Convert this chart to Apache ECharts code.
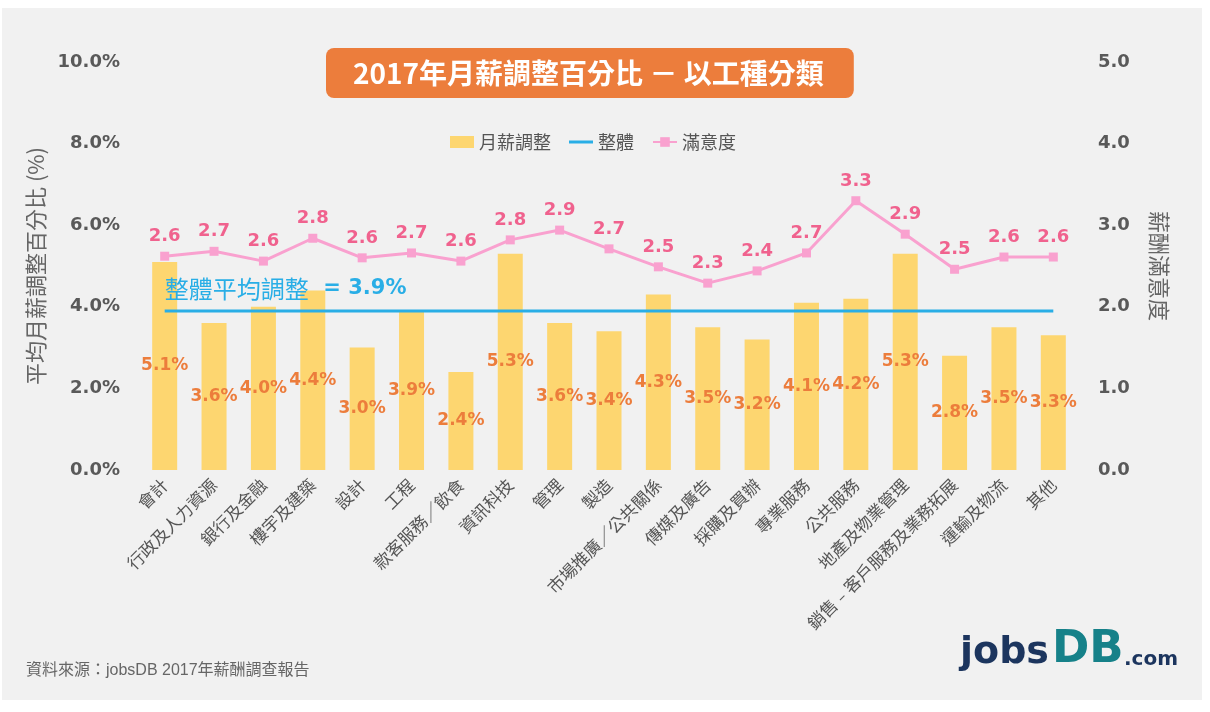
<!DOCTYPE html>
<html>
<head>
<meta charset="utf-8">
<script src="https://cdn.jsdelivr.net/npm/echarts@6/dist/echarts.min.js"></script>
<style>
html,body{margin:0;padding:0;background:#ffffff;}
#chart{position:absolute;left:2px;top:8px;width:1200px;height:692px;}
</style>
</head>
<body>
<div id="chart"></div>
<script>
const categories = ['會計','行政及人力資源','銀行及金融','樓宇及建築','設計','工程','款客服務／飲食','資訊科技','管理','製造','市場推廣／公共關係','傳媒及廣告','採購及買辦','專業服務','公共服務','地產及物業管理','銷售﹣客戶服務及業務拓展','運輸及物流','其他'];
const salaryAdjust = [5.1, 3.6, 4.0, 4.4, 3.0, 3.9, 2.4, 5.3, 3.6, 3.4, 4.3, 3.5, 3.2, 4.1, 4.2, 5.3, 2.8, 3.5, 3.3];
const overall = [3.9, 3.9, 3.9, 3.9, 3.9, 3.9, 3.9, 3.9, 3.9, 3.9, 3.9, 3.9, 3.9, 3.9, 3.9, 3.9, 3.9, 3.9, 3.9];
const satisfaction = [2.62, 2.68, 2.56, 2.84, 2.60, 2.66, 2.56, 2.82, 2.94, 2.71, 2.49, 2.29, 2.44, 2.66, 3.30, 2.89, 2.46, 2.61, 2.61];
const leftTicks = [0, 2, 4, 6, 8, 10];
const rightTicks = [0, 1, 2, 3, 4, 5];
const overallLabel = '整體平均調整';
const overallValueText = '= 3.9%';

const CJK = "'Noto Sans CJK TC','Noto Sans CJK SC',sans-serif";
const NUM = "'DejaVu Sans','Noto Sans CJK TC',sans-serif";
const LOGO = "'DejaVu Sans',sans-serif";

const chart = echarts.init(document.getElementById('chart'));
chart.setOption({
  backgroundColor: '#f1f1f1',
  textStyle: {fontFamily: CJK},
  title: {
    text: '2017年月薪調整百分比 － 以工種分類',
    left: 324, top: 40,
    backgroundColor: '#ec7d3c',
    borderRadius: 8,
    padding: [11, 30, 11, 27],
    textStyle: {color: '#ffffff', fontSize: 28, fontWeight: 'bold', fontFamily: CJK}
  },
  legend: {
    left: 443, top: 120,
    itemGap: 18,
    itemWidth: 24, itemHeight: 12,
    textStyle: {fontSize: 18, color: '#555555', fontFamily: CJK},
    data: [
      {name: '月薪調整', icon: 'rect', itemStyle: {color: '#fdd670'}},
      {name: '整體', icon: 'path://M0,0 L24,0 L24,3 L0,3 Z'},
      {name: '滿意度'}
    ]
  },
  grid: {left: 138, right: 124, top: 54, bottom: 230},
  xAxis: {
    type: 'category',
    data: categories,
    axisLine: {show: false},
    axisTick: {show: false},
    axisLabel: {rotate: 45, fontSize: 17, color: '#555555', margin: 12, interval: 0, fontFamily: CJK}
  },
  yAxis: [
    {
      type: 'value',
      min: leftTicks[0], max: leftTicks[leftTicks.length - 1], interval: leftTicks[1] - leftTicks[0],
      name: '平均月薪調整百分比 (%)',
      nameLocation: 'middle', nameRotate: 90, nameGap: 82,
      nameTextStyle: {fontSize: 22, color: '#666666', fontFamily: CJK},
      splitLine: {show: false},
      axisLine: {show: false}, axisTick: {show: false},
      axisLabel: {fontSize: 18, fontWeight: 'bold', color: '#595959', margin: 20, fontFamily: NUM,
        formatter: v => v.toFixed(1) + '%'}
    },
    {
      type: 'value',
      min: rightTicks[0], max: rightTicks[rightTicks.length - 1], interval: rightTicks[1] - rightTicks[0],
      name: '薪酬滿意度',
      nameLocation: 'middle', nameRotate: -90, nameGap: 70,
      nameTextStyle: {fontSize: 22, color: '#666666', fontFamily: CJK},
      splitLine: {show: false},
      axisLine: {show: false}, axisTick: {show: false},
      axisLabel: {fontSize: 18, fontWeight: 'bold', color: '#595959', margin: 20, fontFamily: NUM,
        formatter: v => v.toFixed(1)}
    }
  ],
  series: [
    {
      name: '月薪調整',
      type: 'bar',
      yAxisIndex: 0,
      data: salaryAdjust,
      barWidth: 25,
      itemStyle: {color: '#fdd670'},
      label: {show: true, position: 'inside', color: '#ec7d3c', fontSize: 17, fontWeight: 'bold', fontFamily: NUM,
        formatter: p => p.value.toFixed(1) + '%'},
      z: 2
    },
    {
      name: '整體',
      type: 'line',
      yAxisIndex: 0,
      data: overall.map((v, i) => i === 0 ? {
        value: v,
        label: {
          show: true, position: 'top', distance: 10, align: 'left',
          formatter: '{a|' + overallLabel + '}{b|  ' + overallValueText + '}',
          rich: {
            a: {fontSize: 24, color: '#29aee6', fontFamily: CJK},
            b: {fontSize: 21, color: '#29aee6', fontWeight: 'bold', fontFamily: NUM}
          }
        }
      } : v),
      symbol: 'circle', symbolSize: 0, showSymbol: true,
      lineStyle: {color: '#29aee6', width: 3},
      itemStyle: {color: '#29aee6'},
      label: {show: false},
      z: 3
    },
    {
      name: '滿意度',
      type: 'line',
      yAxisIndex: 1,
      data: satisfaction,
      symbol: 'rect', symbolSize: 9,
      lineStyle: {color: '#f9a1cf', width: 3},
      itemStyle: {color: '#f9a1cf'},
      label: {show: true, position: 'top', distance: 6, color: '#f0628e', fontSize: 18, fontWeight: 'bold', fontFamily: NUM,
        formatter: p => p.value.toFixed(1)},
      z: 4
    }
  ],
  graphic: [
    {type: 'text', left: 24, top: 655, style: {text: '資料來源：jobsDB 2017年薪酬調查報告', fontSize: 16, fill: '#666666', fontFamily: "'Liberation Sans','Noto Sans CJK TC',sans-serif"}},
    {type: 'text', left: 958, top: 626, style: {text: 'jobs', fontSize: 38, fontWeight: 'bold', fill: '#1c355e', fontFamily: LOGO}},
    {type: 'text', left: 1050, top: 620, style: {text: 'DB', fontSize: 45, fontWeight: 'bold', fill: '#168189', fontFamily: LOGO}},
    {type: 'text', left: 1122, top: 642, style: {text: '.com', fontSize: 20, fontWeight: 'bold', fill: '#1c355e', fontFamily: LOGO}}
  ]
});
</script>
</body>
</html>
